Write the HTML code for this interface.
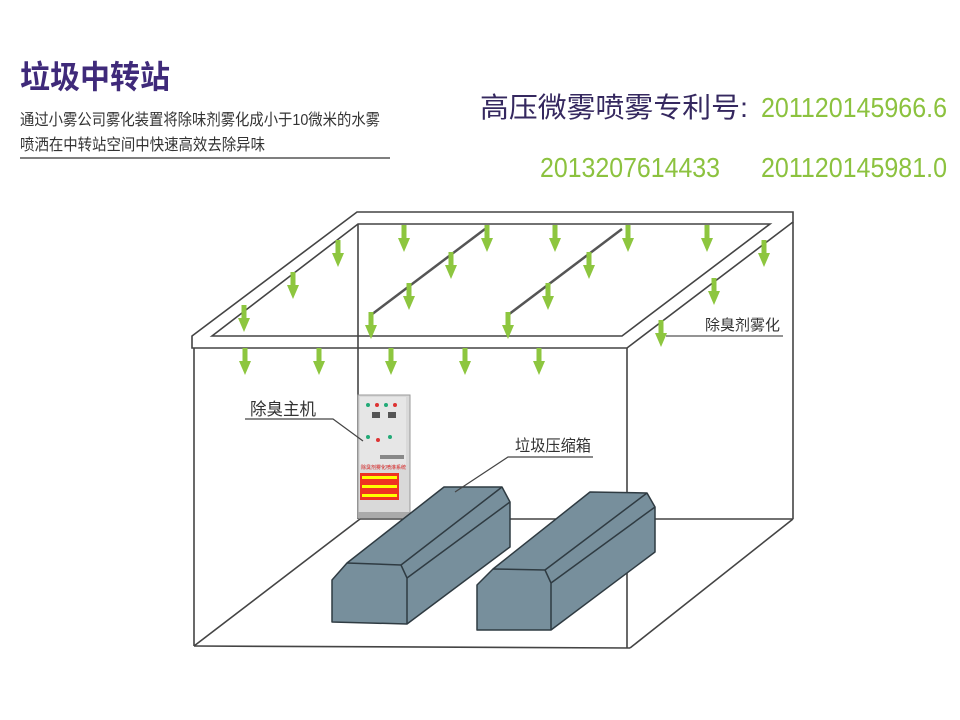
<!DOCTYPE html>
<html><head><meta charset="utf-8"><style>
html,body{margin:0;padding:0;background:#fff;}
svg{display:block;}
text{font-family:"Liberation Sans","Noto Sans CJK SC",sans-serif;}
</style></head><body>
<svg width="960" height="720" viewBox="0 0 960 720" xmlns="http://www.w3.org/2000/svg">
<defs>
<g id="ar"><rect x="-2.5" y="0" width="5" height="15" fill="#8dc63f"/><polygon points="-6,13 6,13 0,27" fill="#8dc63f"/></g>
</defs>
<rect width="960" height="720" fill="#fff"/>
<!-- header -->
<text x="20" y="88" font-size="32" font-weight="bold" fill="#3f2a7a" textLength="150" lengthAdjust="spacingAndGlyphs">垃圾中转站</text>
<text x="20" y="125" font-size="16" fill="#333" textLength="360" lengthAdjust="spacingAndGlyphs">通过小雾公司雾化装置将除味剂雾化成小于10微米的水雾</text>
<text x="20" y="150" font-size="16" fill="#333" textLength="245" lengthAdjust="spacingAndGlyphs">喷洒在中转站空间中快速高效去除异味</text>
<line x1="20" y1="158" x2="390" y2="158" stroke="#555" stroke-width="1.5"/>
<text x="480" y="117" font-size="28" fill="#35285f" textLength="268" lengthAdjust="spacingAndGlyphs">高压微雾喷雾专利号:</text>
<text x="761" y="117" font-size="28" fill="#8cc23f" textLength="186" lengthAdjust="spacingAndGlyphs">201120145966.6</text>
<text x="540" y="177" font-size="28" fill="#8cc23f" textLength="180" lengthAdjust="spacingAndGlyphs">2013207614433</text>
<text x="761" y="177" font-size="28" fill="#8cc23f" textLength="186" lengthAdjust="spacingAndGlyphs">201120145981.0</text>

<g stroke="#444" stroke-width="1.6" fill="none">
<line x1="194" y1="348" x2="194" y2="646"/>
<line x1="194" y1="646" x2="630" y2="648"/>
<line x1="194" y1="646" x2="360" y2="519"/>
<line x1="360" y1="519" x2="793" y2="519"/>
<line x1="793" y1="222" x2="793" y2="519"/>
<line x1="630" y1="648" x2="793" y2="519"/>
<line x1="627" y1="348" x2="627" y2="648"/>
<path d="M192,336 L357,212 L793,212 L793,222 L627,348 L192,348 Z" fill="#fff"/>
<path d="M212,336 L358,224 L770,224 L622,336 Z"/>
<line x1="358" y1="224" x2="358" y2="519"/>
</g>
<g stroke="#555" stroke-width="2.5">
<line x1="371" y1="315" x2="485" y2="229"/>
<line x1="508" y1="315" x2="622" y2="229"/>
</g>
<text x="705" y="330" font-size="15" fill="#333">除臭剂雾化</text>
<line x1="666" y1="336" x2="783" y2="336" stroke="#555" stroke-width="1.2"/>
<g>
<use href="#ar" x="338" y="240"/><use href="#ar" x="293" y="272"/><use href="#ar" x="244" y="305"/>
<use href="#ar" x="404" y="225"/><use href="#ar" x="487" y="225"/><use href="#ar" x="451" y="252"/>
<use href="#ar" x="409" y="283"/><use href="#ar" x="371" y="312"/>
<use href="#ar" x="555" y="225"/><use href="#ar" x="628" y="225"/><use href="#ar" x="589" y="252"/>
<use href="#ar" x="548" y="283"/><use href="#ar" x="508" y="312"/>
<use href="#ar" x="707" y="225"/><use href="#ar" x="764" y="240"/><use href="#ar" x="714" y="278"/><use href="#ar" x="661" y="320"/>
<use href="#ar" x="245" y="348"/><use href="#ar" x="319" y="348"/><use href="#ar" x="391" y="348"/><use href="#ar" x="465" y="348"/><use href="#ar" x="539" y="348"/>
</g>
<!-- cabinet -->
<rect x="358" y="395" width="52" height="123" fill="#d9d9d9" stroke="#999" stroke-width="1"/>
<rect x="360" y="397" width="46" height="68" fill="#e6e6e6"/>
<g>
<circle cx="368" cy="405" r="2" fill="#2a7"/><circle cx="377" cy="405" r="2" fill="#d33"/><circle cx="386" cy="405" r="2" fill="#2a7"/><circle cx="395" cy="405" r="2" fill="#d33"/>
<rect x="372" y="412" width="8" height="6" fill="#555"/><rect x="388" y="412" width="8" height="6" fill="#555"/>
<circle cx="368" cy="437" r="2" fill="#2a7"/><circle cx="378" cy="440" r="2" fill="#d33"/><circle cx="390" cy="437" r="2" fill="#2a7"/>
<rect x="380" y="455" width="24" height="4" fill="#888"/>
</g>
<text x="361" y="469" font-size="5" fill="#d22">除臭剂雾化喷淋系统</text>
<rect x="360" y="473" width="39" height="27" fill="#e32"/>
<g fill="#ff0"><rect x="362" y="476" width="35" height="3"/><rect x="362" y="485" width="35" height="3"/><rect x="362" y="494" width="35" height="3"/></g>
<rect x="358" y="512" width="52" height="6" fill="#aaa"/>
<text x="250" y="415" font-size="17" fill="#333" textLength="66" lengthAdjust="spacingAndGlyphs">除臭主机</text>
<polyline points="245,419 333,419 363,441" fill="none" stroke="#444" stroke-width="1.2"/>
<g fill="#778f9c" stroke="#2f3b42" stroke-width="1.5" stroke-linejoin="round">
<polygon points="332,580 347,563 444,487 502,487 510,502 510,547 407,624 332,622"/>
<polyline fill="none" points="347,563 401,565 407,578 407,624"/>
<line x1="401" y1="565" x2="502" y2="487"/>
<line x1="407" y1="578" x2="510" y2="502"/>
<polygon points="477,585 493,569 590,492 647,493 655,507 655,552 551,630 477,630"/>
<polyline fill="none" points="493,569 545,570 551,583 551,630"/>
<line x1="545" y1="570" x2="647" y2="493"/>
<line x1="551" y1="583" x2="655" y2="507"/>
</g>
<text x="515" y="451" font-size="16" fill="#333" textLength="76" lengthAdjust="spacingAndGlyphs">垃圾压缩箱</text>
<polyline points="593,457 508,457 455,492" fill="none" stroke="#444" stroke-width="1.2"/>
</svg>
</body></html>
